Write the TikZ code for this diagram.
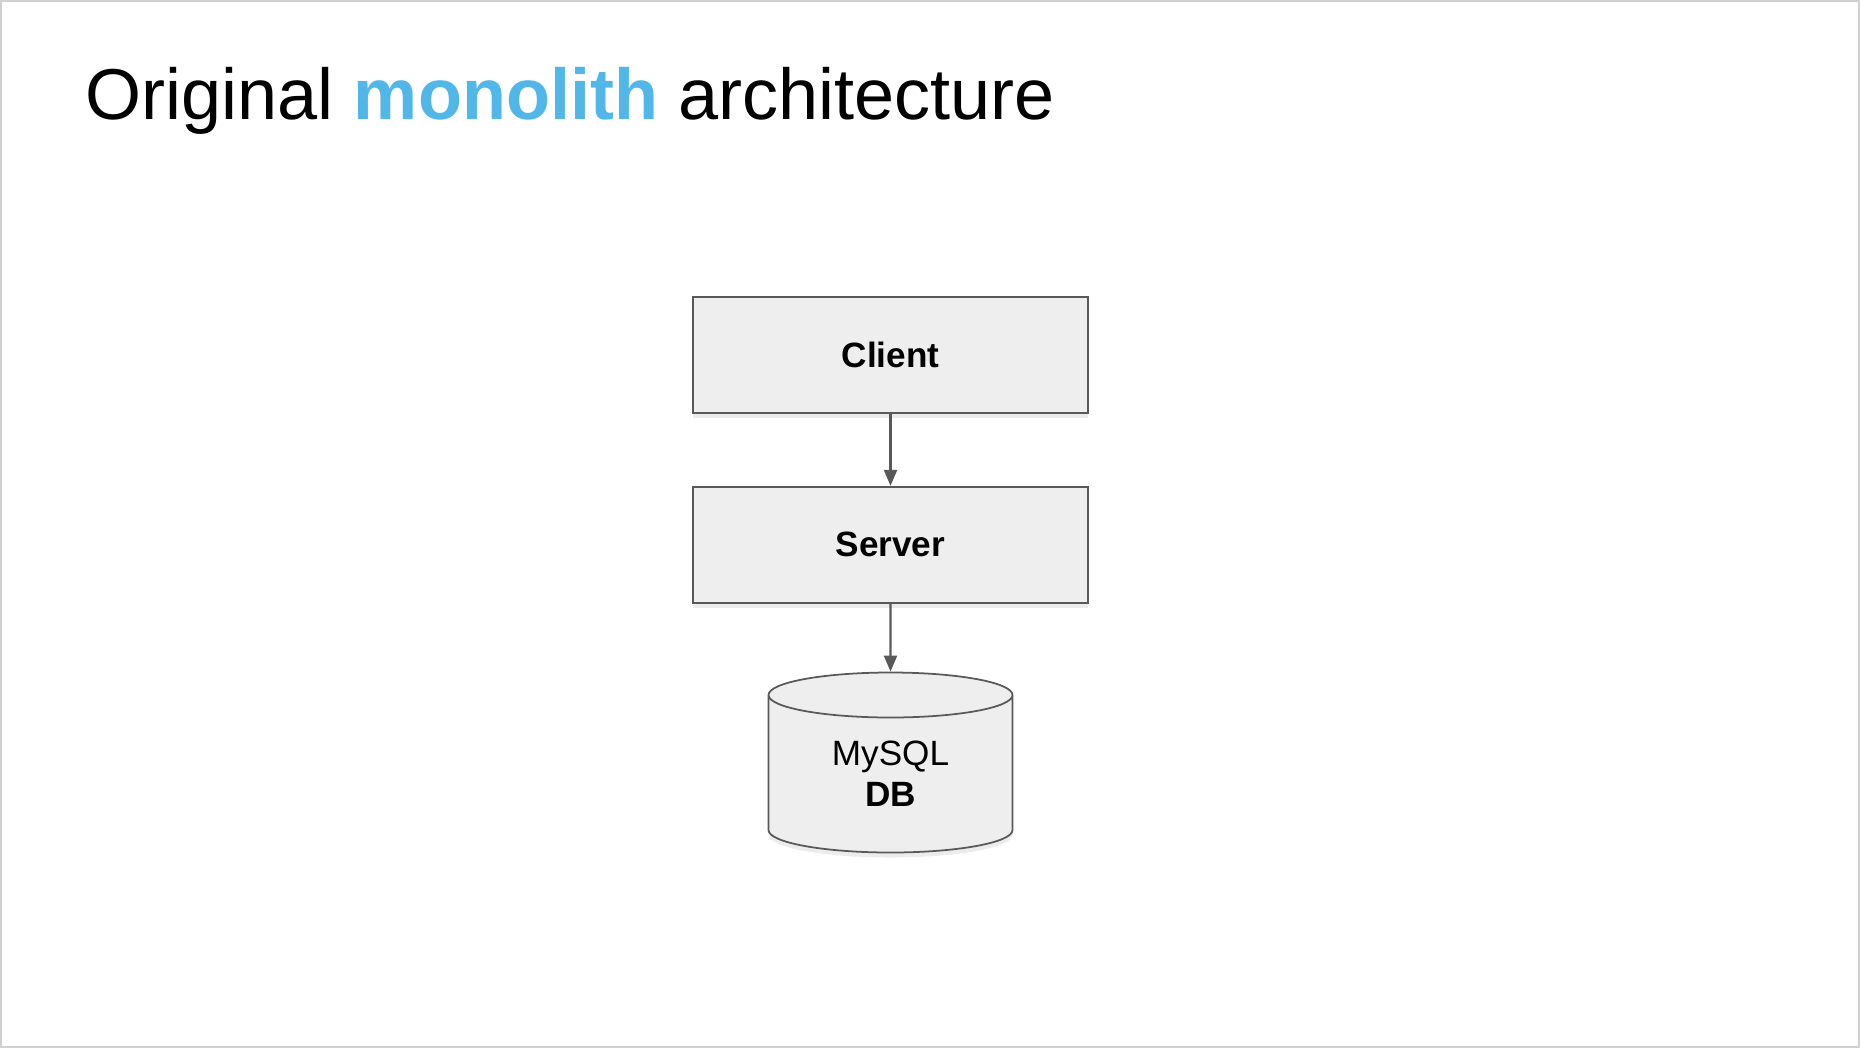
\documentclass[tikz,border=0pt]{standalone}
\usepackage{fontspec}
\setmainfont{Liberation Sans}
\usepackage{xcolor}
\usepackage{tikz}
\usetikzlibrary{arrows.meta,positioning,shapes.geometric,shadows}
\definecolor{monoblue}{HTML}{51B6E8}
\definecolor{edgegray}{HTML}{595959}
\definecolor{boxfill}{HTML}{EEEEEE}
\definecolor{framegray}{HTML}{D0D0D0}

\begin{document}
\begin{tikzpicture}[
  node distance=0.71cm,
  tier/.style={rectangle, draw=edgegray, fill=boxfill, line width=0.5pt, minimum width=3.95cm, minimum height=1.16cm, align=center, font=\fontsize{10}{12}\selectfont\bfseries, drop shadow={shadow xshift=0pt, shadow yshift=-0.5mm, opacity=0.15}},
  store/.style={cylinder, shape border rotate=90, aspect=0.32, draw=edgegray, fill=boxfill, line width=0.5pt, minimum width=2.44cm, minimum height=1.8cm, align=center, font=\fontsize{10}{11.7}\selectfont, drop shadow={shadow xshift=0pt, shadow yshift=-0.5mm, opacity=0.15}},
  arrow/.style={-{Triangle[length=1.6mm, width=1.3mm]}, draw=edgegray, fill=edgegray, line width=0.6pt}
]
% page and frame
\useasboundingbox (0,0) rectangle (18.6,10.48);
\draw[framegray, line width=0.6pt] (0.01,0.01) rectangle (18.59,10.47);

% title
\node[anchor=base west, inner sep=0pt, font=\fontsize{20.5}{24}\selectfont] (title) at (0.85,9.28)
  {Original \textcolor{monoblue}{\bfseries monolith} architecture};

% tiers
\node[tier] (client) at (8.905,6.93) {Client};
\node[tier, below=0.72cm of client] (server) {Server};
\node[store, below=of server, yshift=0.03cm] (mysql) {\\[-0.75em]MySQL\\\bfseries DB};

\draw[arrow] (client) -- (server);
\draw[arrow] (server) -- (mysql.top);
\end{tikzpicture}
\end{document}
